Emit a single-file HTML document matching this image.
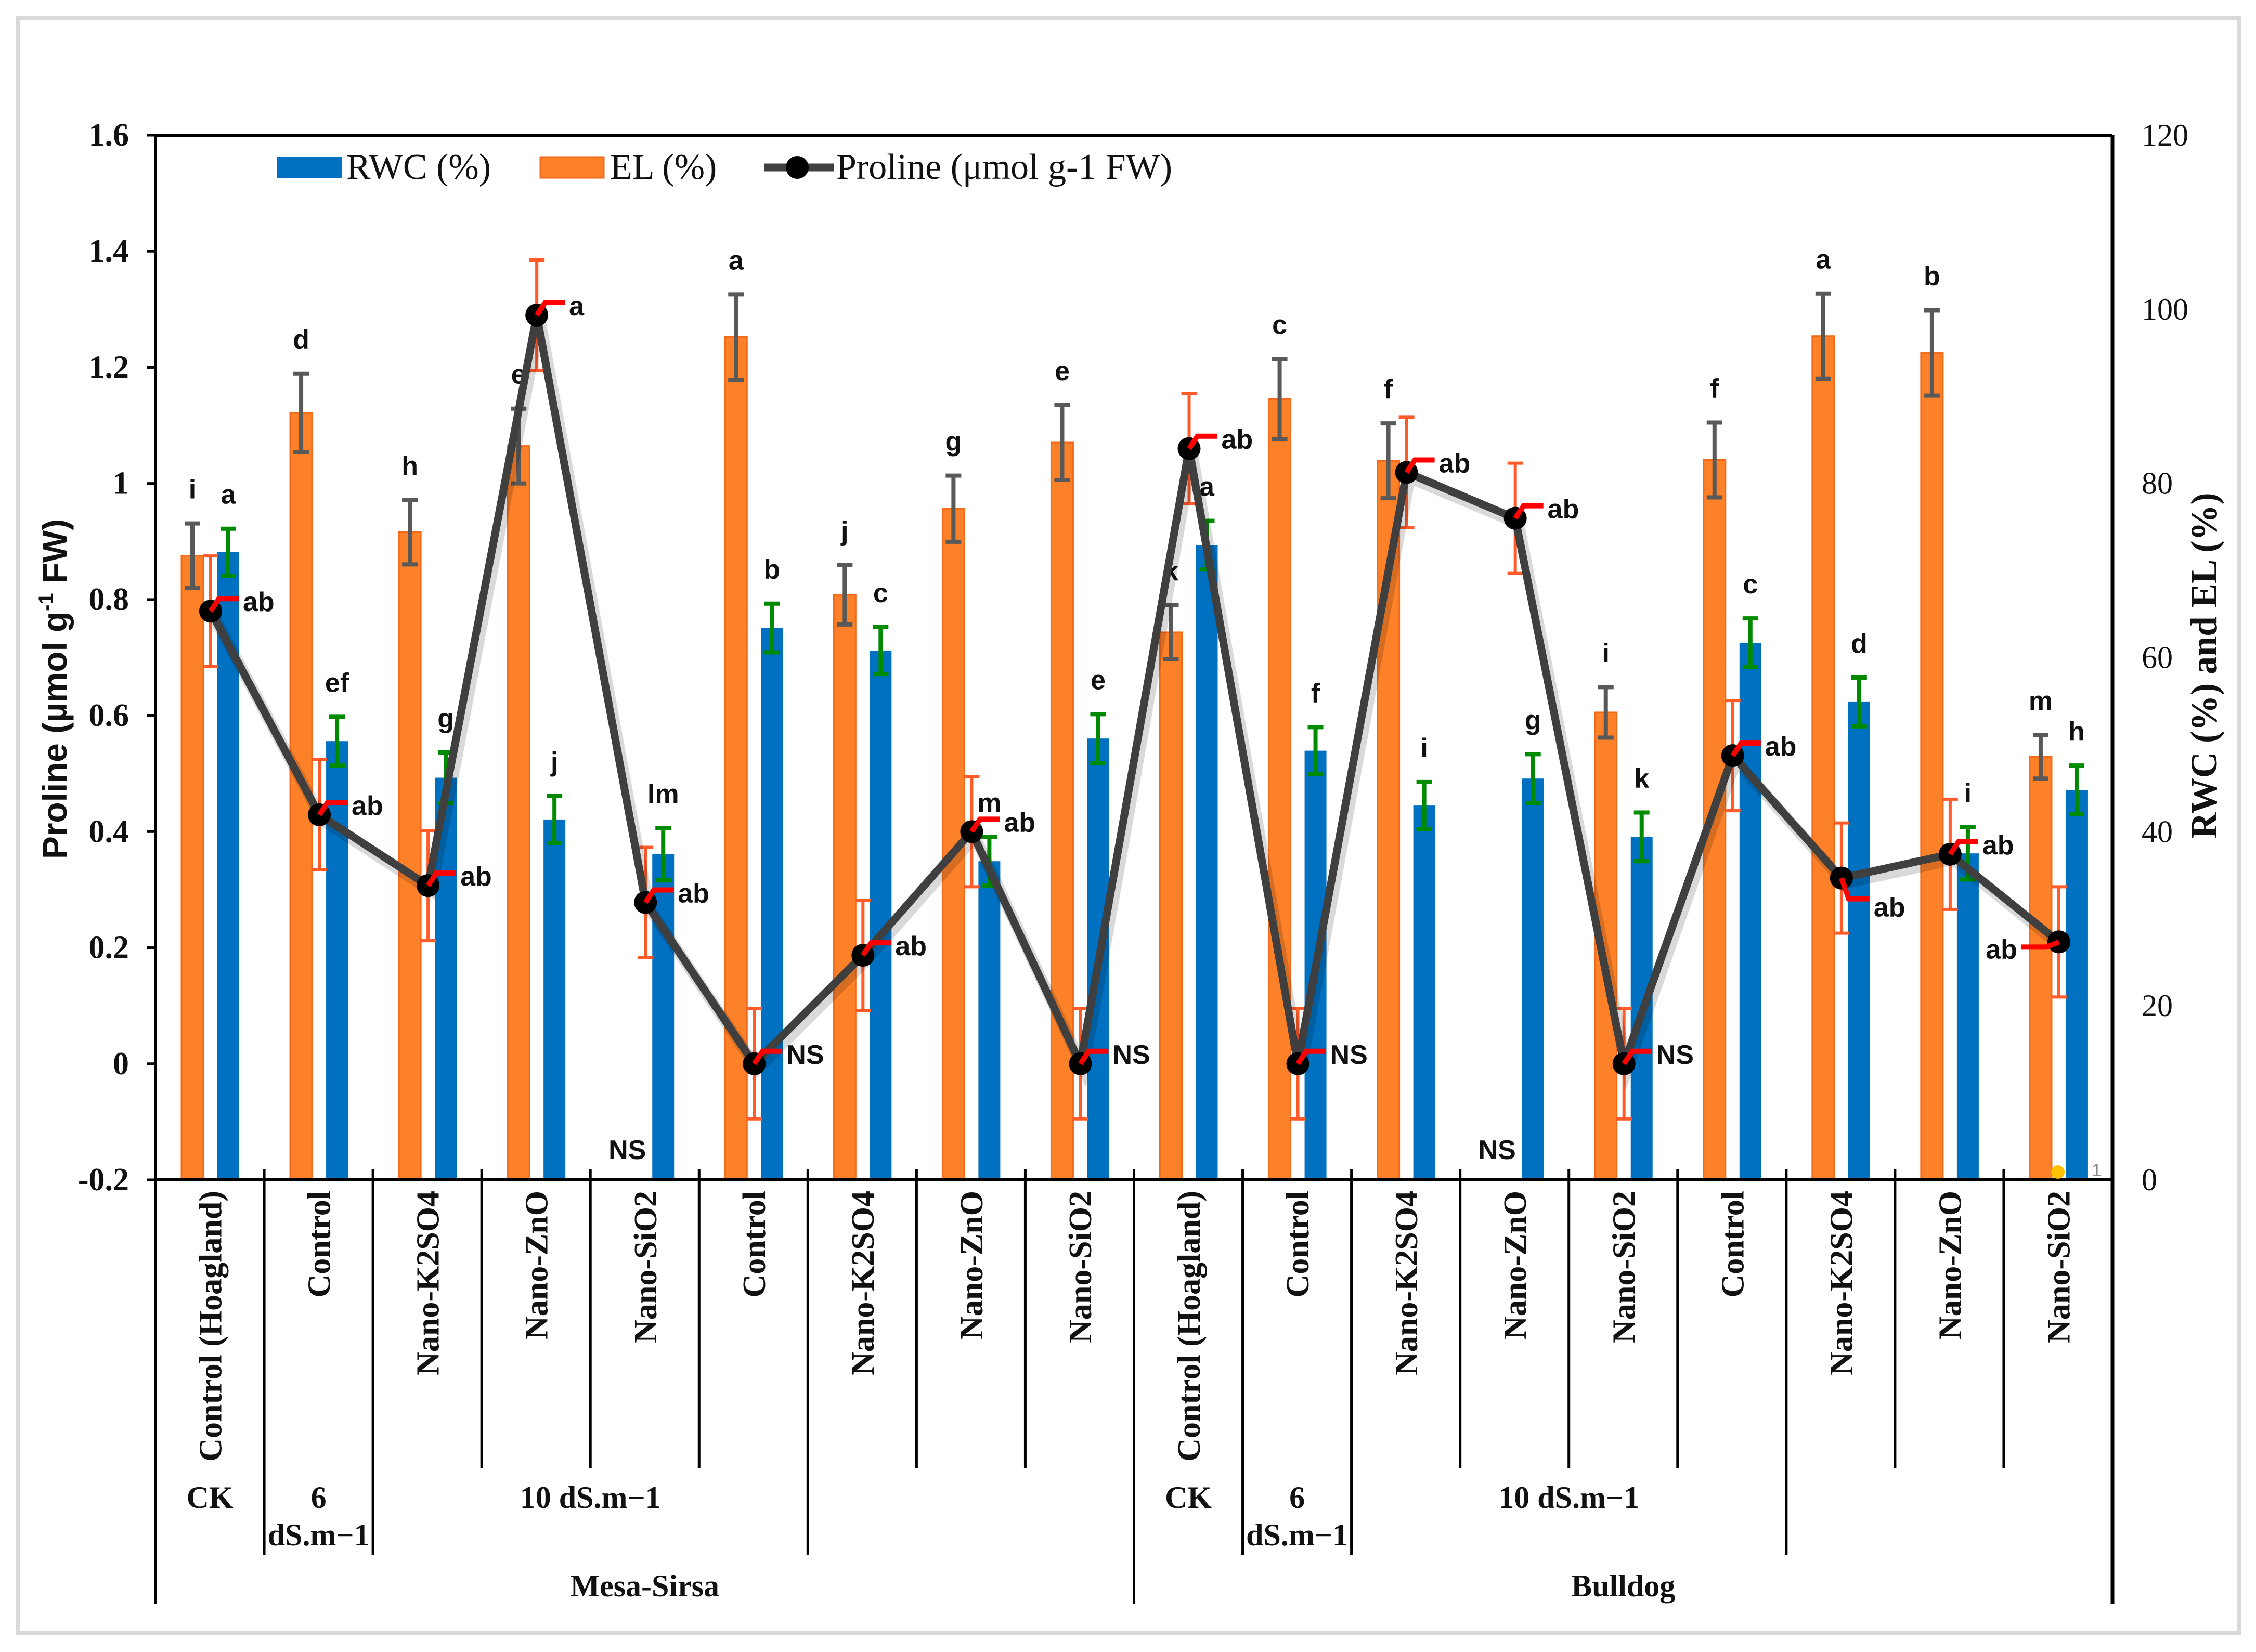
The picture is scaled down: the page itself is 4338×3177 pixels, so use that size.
<!DOCTYPE html>
<html><head><meta charset="utf-8">
<style>
html,body{margin:0;padding:0;background:#fff;}
svg{display:block;}
</style></head>
<body>
<svg id="chart" xmlns="http://www.w3.org/2000/svg" width="4338" height="3177" viewBox="0 0 4338 3177">
<rect x="35" y="35" width="4270" height="3105" fill="#fff" stroke="#d9d9d9" stroke-width="8"/>
<g id="plot"></g>
</svg>
<script>
const categories = ["Control (Hoagland)","Control","Nano-K2SO4","Nano-ZnO","Nano-SiO2","Control","Nano-K2SO4","Nano-ZnO","Nano-SiO2","Control (Hoagland)","Control","Nano-K2SO4","Nano-ZnO","Nano-SiO2","Control","Nano-K2SO4","Nano-ZnO","Nano-SiO2"];
const elValues = [71.7,88.1,74.4,84.3,0,96.8,67.2,77.1,84.7,62.9,89.7,82.6,0,53.7,82.7,96.9,95.0,48.6];
const elErr = [3.7,4.5,3.7,4.3,0,4.9,3.4,3.8,4.3,3.1,4.6,4.3,0,2.9,4.3,4.9,4.9,2.5];
const elLetters = ["i","d","h","e","NS","a","j","g","e","k","c","f","NS","i","f","a","b","m"];
const rwcValues = [72.1,50.4,46.2,41.4,37.4,63.4,60.8,36.6,50.7,72.9,49.3,43.0,46.1,39.4,61.7,54.9,37.5,44.8];
const rwcErr = [2.7,2.8,2.9,2.7,3.0,2.8,2.7,2.8,2.8,2.8,2.7,2.7,2.8,2.8,2.8,2.8,3.0,2.8];
const rwcLetters = ["a","ef","g","j","lm","b","c","m","e","a","f","i","g","k","c","d","i","h"];
const prolineValues = [0.78,0.429,0.307,1.29,0.278,0,0.187,0.40,0,1.06,0,1.019,0.94,0,0.531,0.32,0.361,0.21];
const prolineErr = [0.095,0.095,0.095,0.095,0.095,0.095,0.095,0.095,0.095,0.095,0.095,0.095,0.095,0.095,0.095,0.095,0.095,0.095];
const prolineLetters = ["ab","ab","ab","a","ab","NS","ab","ab","NS","ab","NS","ab","ab","NS","ab","ab","ab","ab"];
const leftTicks = [1.6,1.4,1.2,1,0.8,0.6,0.4,0.2,0,-0.2];
const leftTickLabels = ["1.6","1.4","1.2","1","0.8","0.6","0.4","0.2","0","-0.2"];
const rightTicks = [0,20,40,60,80,100,120];

const NS="http://www.w3.org/2000/svg";
const g=document.getElementById('plot');
const X0=299, X1=4062, Y0=2269, Y1=260;
const catW=(X1-X0)/categories.length;
function yL(v){return Y0-(v+0.2)/1.8*(Y0-Y1);}
function yR(v){return Y0-v/120*(Y0-Y1);}
function catX(i){return X0+i*catW;}
function el(tag,attrs,parent){const e=document.createElementNS(NS,tag);for(const k in attrs)e.setAttribute(k,attrs[k]);(parent||g).appendChild(e);return e;}
function txt(s,attrs,parent){const e=el('text',attrs,parent);e.textContent=s;return e;}
const SERIF='"Liberation Serif", serif', SANS='"Liberation Sans", sans-serif';
const LF=52, LOFF=48;

let a=el('line',{x1:X0,y1:Y1,x2:X1,y2:Y1,stroke:'#000','stroke-width':6});


a=el('line',{x1:X0,y1:Y1,x2:X0,y2:3084,stroke:'#000','stroke-width':6});


a=el('line',{x1:X1,y1:Y1,x2:X1,y2:3084,stroke:'#000','stroke-width':7});



leftTicks.forEach((v,i)=>{
  const y=yL(v);
  const t=el('line',{x1:283,y1:y,x2:X0,y2:y,stroke:'#000','stroke-width':5});
  
  
  const l=txt(leftTickLabels[i],{x:248,y:y+20,'text-anchor':'end','font-family':SERIF,'font-weight':'bold','font-size':62,fill:'#111'});
  
  
});
rightTicks.forEach(v=>{
  const y=yR(v);
  const l=txt(String(v),{x:4118,y:y+20,'font-family':SERIF,'font-size':60,fill:'#111'});
  
  
});

let tt=el('text',{transform:'translate(128,1325) rotate(-90)','text-anchor':'middle','font-family':SANS,'font-weight':'bold','font-size':66,fill:'#111',textLength:654,lengthAdjust:'spacingAndGlyphs'});


tt.innerHTML='Proline (µmol g<tspan font-size="40" dy="-26">-1</tspan><tspan dy="26"> FW)</tspan>';
tt=txt('RWC (%) and EL (%)',{transform:'translate(4262,1280) rotate(-90)','text-anchor':'middle','font-family':SERIF,'font-weight':'bold','font-size':72,fill:'#111',textLength:665,lengthAdjust:'spacingAndGlyphs'});



categories.forEach((c,i)=>{
  const x=catX(i);
  const ev=elValues[i], rv=rwcValues[i];
  if(ev>0){
    const b=el('rect',{x:x+50,y:yR(ev),width:42,height:Y0-yR(ev),fill:'#fd8128',stroke:'#f46a1a','stroke-width':3});
    
    
    const cx=x+71, t1=yR(ev+elErr[i]), t2=yR(ev-elErr[i]);
    const e=el('path',{d:`M${cx},${t1}V${t2}M${cx-15},${t1}h30M${cx-15},${t2}h30`,stroke:'#595959','stroke-width':8,fill:'none'});
    
    
    const lt=txt(elLetters[i],{x:cx,y:t1-LOFF,'text-anchor':'middle','font-family':SANS,'font-weight':'bold','font-size':LF,fill:'#111'});
    
    
  } else {
    const lt=txt(elLetters[i],{x:x+71,y:Y0-40,'text-anchor':'middle','font-family':SANS,'font-weight':'bold','font-size':LF,fill:'#111'});
    
    
  }
  const b=el('rect',{x:x+119,y:yR(rv),width:42,height:Y0-yR(rv),fill:'#0070c0'});
  
  
  const cx=x+140, t1=yR(rv+rwcErr[i]), t2=yR(rv-rwcErr[i]);
  const e=el('path',{d:`M${cx},${t1}V${t2}M${cx-15},${t1}h30M${cx-15},${t2}h30`,stroke:'#008a00','stroke-width':8,fill:'none'});
  
  
  const lt=txt(rwcLetters[i],{x:cx,y:t1-LOFF,'text-anchor':'middle','font-family':SANS,'font-weight':'bold','font-size':LF,fill:'#111'});
  
  
});

prolineValues.forEach((v,i)=>{
  const cx=catX(i)+106, t1=yL(v+prolineErr[i]), t2=yL(v-prolineErr[i]);
  const e=el('path',{d:`M${cx},${t1}V${t2}M${cx-15},${t1}h30M${cx-15},${t2}h30`,stroke:'#ff5a28','stroke-width':6,fill:'none'});
  
  
});
const pts=prolineValues.map((v,i)=>`${catX(i)+106},${yL(v)}`).join(' ');
const shadow=el('polyline',{points:pts,fill:'none',stroke:'rgba(0,0,0,0.15)','stroke-width':22,transform:'translate(6,10)'});


const line=el('polyline',{points:pts,fill:'none',stroke:'#3f3f3f','stroke-width':15,'stroke-linejoin':'round'});


prolineValues.forEach((v,i)=>{
  const cx=catX(i)+106, cy=yL(v);
  const m=el('circle',{cx:cx,cy:cy,r:22,fill:'#000'});
  
  
  let d=`M${cx},${cy}l16,-24h38`, lx=cx+62, ly=cy, anchor='start';
  if(i===15){d=`M${cx},${cy}l14,40h40`; lx=cx+62; ly=cy+74;}
  if(i===17){d=`M${cx},${cy}l-24,10h-48`; lx=cx-80; ly=cy+32; anchor='end';}
  const r=el('path',{d:d,stroke:'#ff0000','stroke-width':10,fill:'none'});
  
  
  const t=txt(prolineLetters[i],{x:lx,y:ly,'text-anchor':anchor,'font-family':SANS,'font-weight':'bold','font-size':LF,fill:'#111'});
  
  
});

categories.forEach((c,i)=>{
  const cx=catX(i)+catW/2;
  const t=txt(c,{transform:`translate(${cx+22},2290) rotate(-90)`,'text-anchor':'end','font-family':SERIF,'font-weight':'bold','font-size':62,fill:'#111'});
  
  
});
const sepEnd={1:2990,2:2990,3:2824,4:2824,5:2824,6:2990,7:2824,8:2824,9:3084,10:2990,11:2990,12:2824,13:2824,14:2824,15:2990,16:2824,17:2824};
for(let k=1;k<18;k++){
  const x=catX(k);
  const s=el('line',{x1:x,y1:Y0-20,x2:x,y2:sepEnd[k],stroke:'#000','stroke-width':5});
  
  
}
a=el('line',{x1:X0,y1:Y0,x2:X1,y2:Y0,stroke:'#000','stroke-width':6});



function grp(s,x,y,name){const t=txt(s,{x:x,y:y,'text-anchor':'middle','font-family':SERIF,'font-weight':'bold','font-size':60,fill:'#111'});}
[0,9].forEach(o=>{
  grp('CK',catX(o)+catW/2,2900,'ck-label');
  grp('6',catX(o+1)+catW/2,2900,'salinity-6-label');
  grp('dS.m−1',catX(o+1)+catW/2,2972,'salinity-6-unit');
  grp('10 dS.m−1',(catX(o+2)+catX(o+6))/2,2900,'salinity-10-label');
});
grp('Mesa-Sirsa',(catX(0)+catX(9))/2,3070,'cultivar-mesa-sirsa');
grp('Bulldog',(catX(9)+catX(18))/2,3070,'cultivar-bulldog');

let dot=el('circle',{cx:3957,cy:2254,r:13,fill:'#ffc000'});


let one=txt('1',{x:4022,y:2262,'font-family':SANS,'font-size':34,fill:'#888'});



let lg=el('g',{});


let r1=el('rect',{x:533,y:302,width:124,height:40,fill:'#0070c0'},lg);


let t1=txt('RWC (%)',{x:666,y:344,'font-family':SERIF,'font-size':70,fill:'#111'},lg);


let r2=el('rect',{x:1039,y:302,width:122,height:40,fill:'#fd8128',stroke:'#f46a1a','stroke-width':3},lg);


let t2=txt('EL (%)',{x:1173,y:344,'font-family':SERIF,'font-size':70,fill:'#111'},lg);


let l3=el('line',{x1:1470,y1:322,x2:1604,y2:322,stroke:'#3f3f3f','stroke-width':15},lg);


let c3=el('circle',{cx:1533,cy:322,r:22,fill:'#000'},lg);


let t3=txt('Proline (μmol g-1 FW)',{x:1608,y:344,'font-family':SERIF,'font-size':70,fill:'#111'},lg);


</script>
</body></html>
